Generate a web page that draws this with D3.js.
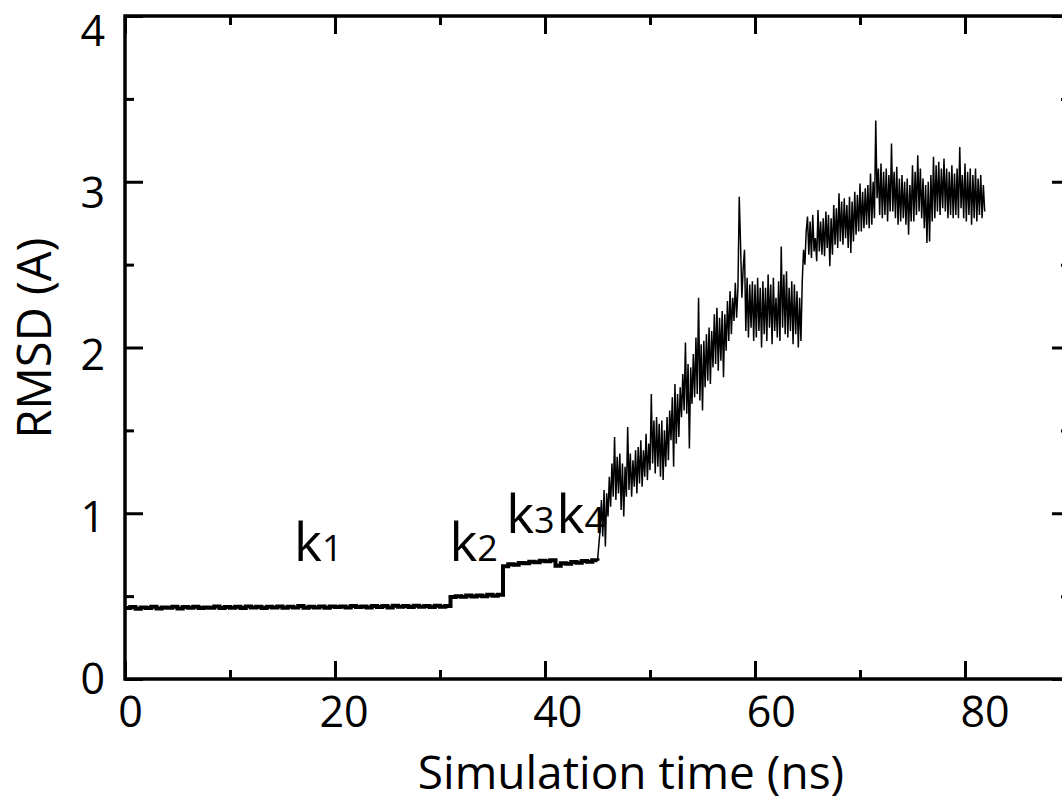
<!DOCTYPE html>
<html>
<head>
<meta charset="utf-8">
<script src="https://cdn.jsdelivr.net/npm/d3@7"></script>
<style>
  body { margin: 0; background: #fff; }
  svg { display: block; overflow: hidden; }
  text { font-family: "Open Sans", "Noto Sans", sans-serif; fill: #000; }
</style>
</head>
<body>
<div id="chart"></div>
<script>
// RMSD every 0.5 ns from 0 to 45 ns (plateaus k1..k4)
const rmsdEarly = [
    0.428, 0.434, 0.424, 0.432, 0.428, 0.436, 0.426, 0.432, 0.430, 0.436,
    0.426, 0.434, 0.430, 0.436, 0.428, 0.432, 0.430, 0.438, 0.428, 0.434,
    0.430, 0.436, 0.428, 0.438, 0.432, 0.436, 0.428, 0.436, 0.432, 0.438,
    0.430, 0.436, 0.432, 0.440, 0.430, 0.436, 0.432, 0.438, 0.430, 0.438,
    0.434, 0.438, 0.432, 0.440, 0.434, 0.438, 0.432, 0.440, 0.434, 0.440,
    0.432, 0.442, 0.436, 0.440, 0.434, 0.442, 0.436, 0.440, 0.434, 0.442,
    0.436, 0.440,
    0.494, 0.500, 0.496, 0.504, 0.498, 0.504, 0.500, 0.508, 0.502, 0.508,
    0.680, 0.692, 0.690, 0.700, 0.698, 0.708, 0.704, 0.714, 0.710, 0.716,
    0.684, 0.698, 0.696, 0.706, 0.702, 0.712, 0.708, 0.716, 0.714
];
const earlyStep = 0.5;

// RMSD every 0.125 ns from 45.25 ns on (fluctuating part), one row per ns
const rmsdLate = [
    0.90, 1.08, 0.86, 1.14, 0.80, 1.12,
    0.98, 1.22, 1.04, 1.30, 1.10, 1.46, 1.08, 1.34,
    1.12, 1.36, 1.02, 1.30, 0.98, 1.28, 1.10, 1.52,
    1.14, 1.36, 1.10, 1.32, 1.16, 1.38, 1.12, 1.40,
    1.18, 1.44, 1.16, 1.38, 1.22, 1.48, 1.20, 1.42,
    1.26, 1.72, 1.30, 1.56, 1.24, 1.58, 1.28, 1.54,
    1.22, 1.56, 1.20, 1.50, 1.28, 1.58, 1.32, 1.62,
    1.44, 1.70, 1.28, 1.78, 1.42, 1.72, 1.46, 1.76,
    1.58, 1.84, 1.62, 2.03, 1.60, 1.90, 1.39, 1.88,
    1.66, 1.96, 1.70, 2.06, 1.72, 2.30, 1.68, 2.02,
    1.62, 2.04, 1.76, 2.08, 1.80, 2.12, 1.78, 2.10,
    1.88, 2.20, 1.90, 2.24, 1.86, 2.18, 1.92, 2.22,
    1.82, 2.20, 1.98, 2.28, 2.04, 2.34, 2.08, 2.30,
    2.16, 2.39, 2.18, 2.36, 2.91, 2.62, 2.30, 2.48,
    2.59, 2.10, 2.42, 2.06, 2.38, 2.12, 2.40, 2.04,
    2.38, 2.06, 2.42, 2.10, 2.36, 2.00, 2.40, 2.08,
    2.36, 2.04, 2.44, 2.12, 2.38, 2.02, 2.42, 2.10,
    2.30, 2.06, 2.40, 2.04, 2.61, 2.12, 2.44, 2.08,
    2.46, 2.06, 2.36, 2.10, 2.40, 2.02, 2.38, 2.08,
    2.34, 2.00, 2.30, 2.04, 2.40, 2.59, 2.50, 2.70,
    2.79, 2.56, 2.76, 2.54, 2.80, 2.58, 2.66, 2.52,
    2.83, 2.58, 2.76, 2.56, 2.78, 2.55, 2.82, 2.60,
    2.80, 2.49, 2.78, 2.56, 2.86, 2.62, 2.84, 2.60,
    2.93, 2.64, 2.88, 2.62, 2.90, 2.66, 2.86, 2.60,
    2.91, 2.57, 2.88, 2.64, 2.94, 2.68, 2.92, 2.70,
    2.99, 2.70, 2.94, 2.72, 2.96, 2.74, 2.98, 2.72,
    3.05, 2.74, 3.00, 2.78, 3.37, 2.90, 3.08, 2.80,
    3.11, 2.78, 3.06, 2.80, 3.08, 2.76, 3.04, 2.82,
    3.23, 2.82, 3.06, 2.78, 3.09, 2.74, 3.02, 2.76,
    3.04, 2.78, 3.00, 2.74, 3.02, 2.68, 2.98, 2.76,
    3.10, 2.76, 3.06, 2.80, 3.16, 2.82, 3.08, 2.78,
    3.02, 2.72, 2.98, 2.63, 3.00, 2.64, 3.04, 2.76,
    3.15, 2.78, 3.10, 2.82, 3.12, 2.80, 3.08, 2.84,
    3.14, 2.82, 3.08, 2.78, 3.06, 2.80, 3.10, 2.78,
    3.05, 2.80, 3.08, 2.78, 3.21, 2.84, 3.04, 2.78,
    3.11, 2.76, 3.06, 2.80, 3.08, 2.74, 3.04, 2.78,
    3.08, 2.76, 3.02, 2.80, 3.04, 2.78, 2.98, 2.82
];
const lateStart = 45.25;
const lateStep = 0.125;

const xMajorTicks = [0, 20, 40, 60, 80];
const xMinorTicks = [10, 30, 50, 70];
const yMajorTicks = [0, 1, 2, 3, 4];
const yMinorTicks = [0.5, 1.5, 2.5, 3.5];

// rate constant labels: [position in ns, RMSD, subscript]
const rateLabels = [
    { x: 16.1, y: 0.71, sub: "1" },
    { x: 30.9, y: 0.71, sub: "2" },
    { x: 36.3, y: 0.88, sub: "3" },
    { x: 41.1, y: 0.88, sub: "4" }
];

const svgWidth = 1062;
const svgHeight = 801;
const margin = { top: 16, right: -8, bottom: 122, left: 125 };
const chartWidth = svgWidth - margin.left - margin.right;
const chartHeight = svgHeight - margin.top - margin.bottom;

const early = rmsdEarly.map((v, i) => ({ t: i * earlyStep, v: v }));
const late = [early[early.length - 1]]
    .concat(rmsdLate.map((v, i) => ({ t: lateStart + i * lateStep, v: v })));

const svg = d3.select("#chart")
    .append("svg")
    .attr("width", svgWidth)
    .attr("height", svgHeight);

const g = svg.append("g")
    .attr("transform", `translate(${margin.left},${margin.top})`);

const x = d3.scaleLinear().domain([0, 90]).range([0, chartWidth]);
const y = d3.scaleLinear().domain([0, 4]).range([chartHeight, 0]);

// tick labels in the source sit on a slightly stretched grid
const xLabel = d3.scaleLinear().domain([0, 80]).range([5.5, 860]);
const yLabel = d3.scaleLinear().domain([0, 4]).range([chartHeight, 15]);

// trace: plateaus drawn as steps, then the fluctuating part
g.append("path")
    .datum(early)
    .attr("fill", "none")
    .attr("stroke", "#000")
    .attr("stroke-width", 4)
    .attr("d", d3.line().curve(d3.curveStepAfter).x(d => x(d.t)).y(d => y(d.v)));

g.append("path")
    .datum(late)
    .attr("fill", "none")
    .attr("stroke", "#000")
    .attr("stroke-width", 1.5)
    .attr("d", d3.line().x(d => x(d.t)).y(d => y(d.v)));

function styleAxis(sel) {
    sel.select(".domain").remove();
    sel.selectAll(".tick line").attr("stroke", "#000").attr("stroke-width", 3);
    sel.selectAll(".tick text").remove();
}

// ticks on all four sides, pointing inward
g.append("g").attr("transform", `translate(0,${chartHeight})`)
    .call(d3.axisBottom(x).tickValues(xMajorTicks).tickSize(-18)).call(styleAxis);
g.append("g").attr("transform", `translate(0,${chartHeight})`)
    .call(d3.axisBottom(x).tickValues(xMinorTicks).tickSize(-9)).call(styleAxis);
g.append("g")
    .call(d3.axisTop(x).tickValues(xMajorTicks).tickSize(-18)).call(styleAxis);
g.append("g")
    .call(d3.axisTop(x).tickValues(xMinorTicks).tickSize(-9)).call(styleAxis);
g.append("g")
    .call(d3.axisLeft(y).tickValues(yMajorTicks).tickSize(-18)).call(styleAxis);
g.append("g")
    .call(d3.axisLeft(y).tickValues(yMinorTicks).tickSize(-9)).call(styleAxis);
g.append("g").attr("transform", `translate(${chartWidth},0)`)
    .call(d3.axisRight(y).tickValues(yMajorTicks).tickSize(-18)).call(styleAxis);
g.append("g").attr("transform", `translate(${chartWidth},0)`)
    .call(d3.axisRight(y).tickValues(yMinorTicks).tickSize(-9)).call(styleAxis);

// frame
g.append("rect")
    .attr("x", 0).attr("y", 0)
    .attr("width", chartWidth).attr("height", chartHeight)
    .attr("fill", "none")
    .attr("stroke", "#000")
    .attr("stroke-width", 3.5);

// tick labels
g.selectAll(".xlab")
    .data(xMajorTicks)
    .enter()
    .append("text")
    .attr("x", d => xLabel(d))
    .attr("y", chartHeight + 48)
    .attr("text-anchor", "middle")
    .style("font-size", "43px")
    .text(d => d);

g.selectAll(".ylab")
    .data(yMajorTicks)
    .enter()
    .append("text")
    .attr("x", -20)
    .attr("y", d => yLabel(d))
    .attr("dy", "0.36em")
    .attr("text-anchor", "end")
    .style("font-size", "43px")
    .text(d => d);

// axis titles
svg.append("text")
    .attr("x", 631)
    .attr("y", 789)
    .attr("text-anchor", "middle")
    .style("font-size", "46px")
    .text("Simulation time (ns)");

svg.append("text")
    .attr("transform", "translate(51,338) rotate(-90)")
    .attr("text-anchor", "middle")
    .style("font-size", "47px")
    .text("RMSD (A)");

// k labels
const kText = g.selectAll(".klab")
    .data(rateLabels)
    .enter()
    .append("text")
    .attr("x", d => x(d.x))
    .attr("y", d => y(d.y))
    .style("font-size", "53px");
kText.append("tspan").text("k");
kText.append("tspan").style("font-size", "36px").text(d => d.sub);
</script>
</body>
</html>
